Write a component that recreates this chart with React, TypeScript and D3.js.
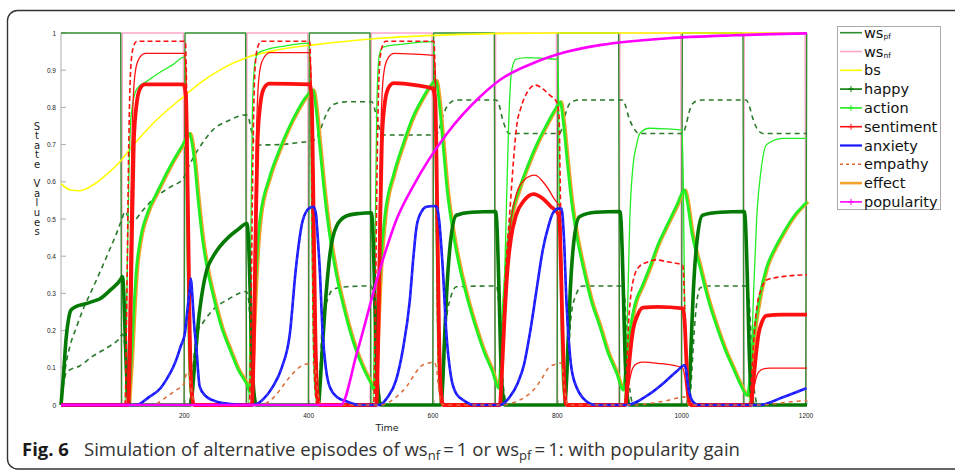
import React from 'react';
import * as d3 from 'd3';

type P = [number, number];

const xTickValues = [200, 400, 600, 800, 1000, 1200];
const yTickValues = [0, 0.1, 0.2, 0.3, 0.4, 0.5, 0.6, 0.7, 0.8, 0.9, 1];
const yTickLabels = ['0', '0.1', '0.2', '0.3', '0.4', '0.5', '0.6', '0.7', '0.8', '0.9', '1'];

const wsPf: P[] = [[0,1],[96,1],[97.5,0],[198,0],[199.5,1],[297,1],[298.5,0],[398,0],[399.5,1],[497,1],[498.5,0],[598,0],[599.5,1],[697,1],[698.5,0],[798,0],[799.5,1],[897,1],[898.5,0],[998,0],[999.5,1],[1097,1],[1098.5,0],[1198,0],[1199.5,1]];
const wsNf: P[] = [[0,0],[97,0],[98.5,1],[197,1],[198.5,0],[297.5,0],[299,1],[397,1],[398.5,0],[497.5,0],[499,1],[597,1],[598.5,0],[697.5,0],[699,1],[797,1],[798.5,0],[897.5,0],[899,1],[997,1],[998.5,0],[1097.5,0],[1099,1],[1197,1],[1198.5,0],[1200,0]];
const bs: P[] = [[0,0.595],[15,0.578],[30,0.576],[50,0.59],[70,0.615],[90,0.645],[114,0.694],[150,0.76],[197,0.829],[224,0.866],[260,0.905],[300,0.935],[350,0.955],[406,0.968],[460,0.978],[514,0.986],[622,0.995],[720,0.999],[800,1],[1200,1]];
const happy: P[] = [[0,0],[4,0.08],[8,0.175],[12,0.23],[16,0.255],[25,0.265],[35,0.27],[50,0.278],[62,0.285],[80,0.31],[95,0.335],[99,0.345],[101,0.3],[103,0.2],[105,0.1],[108,0.02],[111,0],
[208,0],[211,0.03],[214,0.09],[218,0.167],[222,0.24],[226,0.29],[234,0.36],[245,0.4],[255,0.425],[270,0.452],[285,0.472],[299,0.488],[301,0.46],[303,0.38],[305,0.26],[307,0.14],[310,0.04],[314,0],
[414,0],[417,0.06],[421,0.17],[426,0.29],[433,0.41],[443,0.48],[459,0.508],[480,0.515],[499,0.517],[501,0.49],[503,0.4],[505,0.28],[507,0.15],[510,0.04],[514,0],
[611,0],[614,0.06],[617,0.18],[620,0.29],[626,0.43],[636,0.51],[660,0.518],[699,0.52],[701,0.49],[703,0.4],[705,0.28],[707,0.15],[710,0.04],[714,0],
[810,0],[813,0.06],[816,0.18],[819,0.3],[825,0.44],[834,0.506],[860,0.518],[899,0.52],[901,0.49],[903,0.4],[905,0.28],[907,0.15],[910,0.04],[914,0],
[1008,0],[1011,0.06],[1014,0.18],[1017,0.3],[1023,0.44],[1032,0.51],[1060,0.518],[1099,0.52],[1101,0.49],[1103,0.4],[1105,0.28],[1107,0.15],[1110,0.04],[1114,0],[1200,0]];
const action: P[] = [[0,0],[108,0],[110,0.04],[113,0.12],[117,0.25],[121,0.36],[127,0.44],[140,0.52],[154,0.57],[175,0.64],[196,0.7],[207,0.73],[211,0.7],[215,0.65],[220,0.56],[228,0.44],[236,0.36],[244,0.3],[258,0.21],[272,0.148],[285,0.095],[299,0.055],[304,0.035],
[307,0.1],[310,0.22],[313,0.33],[316,0.42],[320,0.5],[335,0.61],[350,0.68],[365,0.74],[380,0.79],[395,0.83],[405,0.847],
[410,0.8],[416,0.7],[423,0.58],[431,0.47],[443,0.35],[459,0.235],[472,0.16],[486,0.1],[498,0.06],[504,0.04],
[507,0.11],[510,0.23],[513,0.34],[517,0.44],[521,0.51],[535,0.62],[550,0.7],[565,0.77],[580,0.82],[595,0.86],[603,0.872],
[608,0.82],[614,0.71],[621,0.58],[630,0.47],[640,0.38],[653,0.29],[667,0.21],[680,0.145],[694,0.09],[704,0.045],
[707,0.11],[710,0.22],[714,0.33],[718,0.42],[723,0.49],[737,0.58],[750,0.64],[765,0.7],[780,0.75],[795,0.795],[803,0.815],
[808,0.76],[814,0.66],[821,0.55],[830,0.45],[840,0.37],[853,0.28],[867,0.21],[880,0.14],[894,0.085],[904,0.04],
[908,0.09],[912,0.16],[917,0.22],[923,0.27],[935,0.32],[947,0.37],[960,0.43],[974,0.48],[990,0.535],[1003,0.578],
[1007,0.55],[1015,0.46],[1028,0.37],[1040,0.29],[1055,0.21],[1068,0.15],[1081,0.1],[1093,0.055],[1104,0.025],
[1108,0.07],[1112,0.15],[1117,0.22],[1125,0.3],[1135,0.37],[1148,0.42],[1161,0.46],[1180,0.51],[1200,0.546]];
const effect: P[] = action;
const actionThin: P[] = [[0,0],[103,0],[106,0.3],[109,0.6],[113,0.78],[122,0.85],[138,0.87],[160,0.895],[180,0.915],[198,0.935],[200,0.9],[202,0.5],[205,0.15],[208,0.03],[212,0],
[302,0],[305,0.4],[308,0.8],[312,0.92],[317,0.946],[330,0.955],[360,0.965],[399,0.973],[401,0.9],[403,0.5],[406,0.15],[409,0.03],[413,0],
[502,0],[505,0.4],[508,0.8],[512,0.94],[518,0.962],[550,0.97],[599,0.977],[601,0.9],[603,0.5],[606,0.15],[609,0.03],[613,0],
[706,0],[710,0.1],[713,0.3],[716,0.5],[720,0.75],[725,0.9],[732,0.93],[750,0.934],[775,0.932],[798,0.929],[800,0.88],[802,0.5],[805,0.15],[808,0.03],[812,0],
[905,0],[909,0.1],[912,0.3],[915,0.5],[920,0.64],[926,0.7],[931,0.73],[947,0.744],[975,0.742],[999,0.739],[1001,0.6],[1003,0.3],[1006,0.08],[1009,0],
[1106,0],[1110,0.1],[1114,0.3],[1119,0.5],[1126,0.63],[1135,0.7],[1161,0.717],[1200,0.717]];
const sentiment: P[] = [[0,0],[108,0],[111,0.15],[114,0.45],[117,0.7],[121,0.8],[127,0.85],[135,0.862],[197,0.862],[201,0.83],[204,0.55],[207,0.2],[210,0.04],[214,0],
[307,0],[310,0.15],[313,0.45],[316,0.7],[320,0.8],[326,0.85],[335,0.864],[400,0.862],[403,0.83],[406,0.55],[409,0.2],[412,0.04],[416,0],
[507,0],[510,0.15],[513,0.45],[516,0.7],[520,0.8],[526,0.85],[535,0.865],[570,0.86],[598,0.85],[602,0.82],[605,0.55],[608,0.2],[611,0.04],[615,0],
[706,0],[709,0.08],[713,0.22],[718,0.36],[724,0.45],[732,0.51],[745,0.55],[760,0.567],[775,0.555],[787,0.535],[801,0.51],[803,0.45],[806,0.25],[809,0.08],[813,0],
[908,0],[911,0.05],[915,0.13],[920,0.2],[927,0.24],[936,0.262],[960,0.264],[1000,0.26],[1003,0.23],[1006,0.12],[1009,0.03],[1013,0],
[1110,0],[1113,0.05],[1117,0.12],[1122,0.19],[1128,0.225],[1135,0.24],[1160,0.243],[1200,0.243]];
const sentimentThin: P[] = [[0,0],[105,0],[108,0.1],[111,0.4],[114,0.7],[117,0.85],[121,0.91],[127,0.935],[136,0.945],[198,0.945],[201,0.9],[204,0.55],[207,0.18],[210,0.03],[214,0],
[305,0],[308,0.1],[311,0.4],[314,0.7],[317,0.85],[321,0.91],[327,0.935],[336,0.947],[399,0.947],[402,0.9],[405,0.55],[408,0.18],[411,0.03],[415,0],
[505,0],[508,0.1],[511,0.4],[514,0.7],[517,0.85],[521,0.91],[527,0.935],[536,0.945],[570,0.943],[599,0.94],[602,0.9],[605,0.55],[608,0.18],[611,0.03],[615,0],
[706,0],[709,0.1],[713,0.25],[718,0.4],[724,0.5],[733,0.57],[745,0.605],[762,0.618],[780,0.59],[795,0.55],[802,0.533],[805,0.4],[808,0.15],[811,0.03],[815,0],
[908,0],[911,0.03],[915,0.07],[920,0.1],[927,0.112],[936,0.115],[960,0.112],[1000,0.1],[1003,0.08],[1006,0.04],[1009,0.01],[1013,0],
[1110,0],[1113,0.03],[1117,0.065],[1122,0.088],[1130,0.097],[1140,0.099],[1200,0.099]];
const sentimentDashed: P[] = [[0,0],[103,0],[106,0.3],[109,0.7],[112,0.9],[116,0.96],[122,0.978],[200,0.978],[202,0.85],[204,0.5],[206,0.2],[209,0.04],[212,0],
[303,0],[306,0.3],[309,0.7],[312,0.9],[316,0.96],[322,0.978],[400,0.978],[402,0.85],[404,0.5],[406,0.2],[409,0.04],[412,0],
[503,0],[506,0.3],[509,0.7],[512,0.9],[516,0.96],[522,0.978],[600,0.978],[602,0.85],[604,0.5],[606,0.2],[609,0.04],[612,0],
[706,0],[709,0.12],[713,0.28],[718,0.43],[722,0.52],[728,0.66],[733,0.75],[740,0.8],[749,0.838],[763,0.86],[775,0.85],[786,0.833],[797,0.815],[801,0.78],[803,0.6],[805,0.35],[808,0.1],[811,0],
[907,0],[910,0.1],[913,0.22],[917,0.3],[922,0.345],[930,0.372],[945,0.385],[957,0.39],[975,0.385],[1000,0.376],[1002,0.33],[1004,0.2],[1007,0.06],[1010,0],
[1108,0],[1111,0.08],[1115,0.19],[1120,0.27],[1126,0.31],[1135,0.336],[1160,0.345],[1200,0.35]];
const happyDashedUpper: P[] = [[0,0],[3,0.05],[8,0.11],[14,0.156],[25,0.21],[35,0.255],[50,0.31],[62,0.355],[75,0.405],[89,0.46],[98,0.5],[103,0.52],[107,0.51],[112,0.49],[118,0.495],[130,0.52],[153,0.56],[175,0.585],[197,0.61],[205,0.64],[217,0.677],[230,0.71],[244,0.739],[270,0.765],[298,0.78],[302,0.77],[306,0.74],[310,0.71],[316,0.699],[352,0.7],[380,0.705],[406,0.712],[412,0.72],[417,0.739],[425,0.775],[433,0.8],[445,0.812],[459,0.815],[500,0.815],[504,0.8],[508,0.77],[513,0.74],[518,0.726],[550,0.726],[604,0.726],[608,0.74],[613,0.77],[620,0.8],[628,0.815],[636,0.82],[700,0.82],[705,0.805],[710,0.77],[715,0.745],[721,0.73],[802,0.73],[807,0.75],[812,0.785],[818,0.81],[826,0.818],[834,0.82],[903,0.82],[908,0.805],[913,0.775],[920,0.748],[930,0.73],[1000,0.73],[1005,0.75],[1010,0.785],[1016,0.81],[1024,0.818],[1033,0.82],[1102,0.82],[1107,0.805],[1112,0.775],[1118,0.748],[1129,0.73],[1200,0.73]];
const happyDashedLower: P[] = [[0,0],[2,0.03],[5,0.065],[8,0.085],[15,0.095],[30,0.105],[50,0.13],[65,0.145],[80,0.16],[92,0.175],[99,0.19],[102,0.17],[105,0.1],[108,0.03],[112,0],
[206,0],[210,0.05],[214,0.13],[218,0.19],[230,0.225],[244,0.255],[270,0.285],[298,0.305],[302,0.28],[305,0.18],[308,0.08],[312,0.02],[316,0],
[413,0],[417,0.1],[421,0.237],[428,0.28],[437,0.31],[459,0.318],[499,0.32],[503,0.28],[506,0.18],[509,0.08],[513,0.02],[517,0],
[612,0],[616,0.1],[620,0.23],[627,0.29],[636,0.318],[700,0.32],[704,0.28],[707,0.18],[710,0.08],[714,0.02],[718,0],
[811,0],[815,0.1],[820,0.23],[827,0.29],[839,0.32],[903,0.32],[907,0.28],[910,0.18],[913,0.08],[917,0.02],[921,0],
[1011,0],[1015,0.1],[1020,0.23],[1028,0.315],[1038,0.32],[1103,0.32],[1107,0.28],[1110,0.18],[1113,0.08],[1117,0.02],[1121,0],[1200,0]];
const anxiety: P[] = [[0,0],[121,0],[142,0.022],[160,0.045],[169,0.067],[180,0.1],[185,0.12],[193,0.16],[199,0.19],[203,0.25],[207,0.31],[209,0.34],[211,0.3],[214,0.22],[218,0.148],[223,0.05],[232,0.025],[244,0.013],[260,0.005],[300,0],[308,0],[325,0.015],[341,0.05],[355,0.1],[368,0.19],[378,0.37],[389,0.497],[400,0.53],[406,0.533],[410,0.515],[413,0.45],[416,0.372],[421,0.19],[426,0.1],[432,0.05],[445,0.02],[459,0.01],[480,0],[512,0],[525,0.02],[539,0.067],[550,0.15],[561,0.28],[567,0.4],[572,0.48],[580,0.52],[588,0.533],[600,0.535],[604,0.533],[608,0.5],[614,0.37],[620,0.19],[627,0.08],[636,0.03],[650,0.01],[665,0],[706,0],[722,0.022],[735,0.06],[745,0.11],[754,0.19],[765,0.31],[775,0.417],[784,0.48],[791,0.515],[800,0.528],[805,0.528],[809,0.45],[813,0.28],[817,0.17],[821,0.1],[830,0.045],[839,0.02],[860,0],[909,0],[947,0.03],[970,0.06],[990,0.09],[1003,0.107],[1006,0.09],[1008,0.06],[1011,0.03],[1016,0.01],[1025,0],[1124,0],[1160,0.02],[1199,0.045]];
const empathy: P[] = [[0,0],[148,0],[160,0.01],[170,0.022],[185,0.04],[197,0.055],[202,0.085],[205,0.09],[208,0.06],[212,0.02],[216,0],
[320,0],[335,0.01],[352,0.04],[363,0.065],[373,0.085],[389,0.107],[406,0.113],[409,0.1],[412,0.05],[416,0.01],[420,0],
[515,0],[530,0.01],[545,0.03],[556,0.05],[567,0.078],[578,0.103],[590,0.112],[600,0.115],[604,0.1],[607,0.05],[611,0.01],[615,0],
[712,0],[725,0.005],[745,0.02],[760,0.04],[773,0.07],[786,0.103],[797,0.11],[805,0.113],[808,0.08],[811,0.03],[815,0],
[925,0],[950,0.005],[975,0.012],[1003,0.022],[1006,0.01],[1010,0],
[1125,0],[1160,0.006],[1200,0.013]];
const popularity: P[] = [[0,0],[450,0],[476,0.14],[514,0.37],[540,0.5],[567,0.59],[621,0.73],[675,0.83],[707,0.875],[761,0.92],[815,0.95],[869,0.968],[977,0.986],[1083,0.994],[1200,0.999]];

const legendLabels = ['ws', 'ws', 'bs', 'happy', 'action', 'sentiment', 'anxiety', 'empathy', 'effect', 'popularity'];
const legendSubs = ['pf', 'nf', '', '', '', '', '', '', '', ''];

const C = {
  pf: '#2f8f2f', nf: '#ffa6c9', bs: '#ffff00', happy: '#047a04', action: '#22ee22',
  red: '#ff1010', blue: '#1515ff', emp: '#dd6a35', effect: '#f2a22a', pop: '#ff00ff', dgreen: '#2a7a2a',
};

const legendStyles = [
  { color: C.pf, width: 1.6 },
  { color: C.nf, width: 1.6 },
  { color: C.bs, width: 1.6 },
  { color: C.happy, width: 1.6, marker: true },
  { color: C.action, width: 1.6, marker: true },
  { color: C.red, width: 1.6, marker: true },
  { color: C.blue, width: 2.2 },
  { color: C.emp, width: 1.4, dash: '3,3' },
  { color: C.effect, width: 2.6 },
  { color: C.pop, width: 1.6, marker: true },
];

export default function App() {
  const x = d3.scaleLinear().domain([0, 1200]).range([61, 807]);
  const y = d3.scaleLinear().domain([0, 1]).range([405, 33]);
  const smooth = d3.line<P>().x(d => x(d[0])).y(d => y(d[1])).curve(d3.curveMonotoneX);
  const straight = d3.line<P>().x(d => x(d[0])).y(d => y(d[1]));

  const layers = [
    { d: straight(wsNf), color: C.nf, w: 1.6 },
    { d: straight(wsPf), color: C.pf, w: 1.4 },
    { d: smooth(bs), color: C.bs, w: 1.6 },
    { d: smooth(happyDashedUpper), color: C.dgreen, w: 1.6, dash: '5,4' },
    { d: smooth(happyDashedLower), color: C.dgreen, w: 1.6, dash: '5,4' },
    { d: smooth(effect), color: C.effect, w: 3, tx: 1.3 },
    { d: smooth(action), color: C.action, w: 2.8 },
    { d: smooth(actionThin), color: C.action, w: 1.3 },
    { d: smooth(happy), color: C.happy, w: 3.6 },
    { d: smooth(sentimentDashed), color: C.red, w: 1.6, dash: '5,3' },
    { d: smooth(sentimentThin), color: C.red, w: 1.3 },
    { d: smooth(sentiment), color: C.red, w: 3.8 },
    { d: smooth(anxiety), color: C.blue, w: 2.6 },
    { d: smooth(anxiety), color: '#3333ff', w: 1.6, dash: '4,3' },
    { d: smooth(empathy), color: C.emp, w: 1.5, dash: '4,4' },
    { d: smooth(popularity), color: C.pop, w: 2.6 },
  ];

  const stateChars = 'State Values'.split('');
  const legendY = (i: number) => 32.7 + i * 18.8;

  return (
    <svg width={955} height={470} style={{ position: 'absolute', left: 0, top: 0, background: '#fff' }}>
      <rect x={0} y={0} width={955} height={470} fill="#fff" />
      <path d="M955,10.5 H17.5 A10,10 0 0 0 7.5,20.5 V459 A10,10 0 0 0 17.5,469 H955" fill="none" stroke="#333" strokeWidth={1.4} />

      {/* axes */}
      <line x1={x(0)} x2={x(0)} y1={y(0)} y2={y(1)} stroke="#aaa" strokeWidth={1} />
      <line x1={x(0)} x2={x(1200)} y1={y(0)} y2={y(0)} stroke="#aaa" strokeWidth={1} />
      {yTickValues.map((v, i) => (
        <g key={'yt' + i}>
          <line x1={x(0)} x2={x(0) + 5} y1={y(v)} y2={y(v)} stroke="#999" strokeWidth={0.8} />
          <text x={56} y={y(v)} textAnchor="end" dominantBaseline="central" fontFamily="Liberation Sans, Arial" fontSize={6.5} fill="#222">{yTickLabels[i]}</text>
        </g>
      ))}
      {xTickValues.map((v, i) => (
        <g key={'xt' + i}>
          <line x1={x(v)} x2={x(v)} y1={y(0)} y2={y(0) - 5} stroke="#999" strokeWidth={0.8} />
          <text x={x(v) - 1} y={415} textAnchor="middle" dominantBaseline="central" fontFamily="Liberation Sans, Arial" fontSize={6.5} fill="#222">{v}</text>
        </g>
      ))}

      {layers.map((l, i) => (
        <path key={'l' + i} d={l.d || ''} fill="none" stroke={l.color} strokeWidth={l.w}
          strokeDasharray={l.dash} strokeLinejoin="round"
          transform={l.tx ? `translate(${l.tx},0)` : undefined} />
      ))}

      <text x={387} y={427} textAnchor="middle" dominantBaseline="central" fontFamily="DejaVu Sans, Verdana" fontSize={9.5} fill="#222">Time</text>
      {stateChars.map((c, i) => (
        <text key={'s' + i} x={37} y={126 + i * 9.6} textAnchor="middle" dominantBaseline="central" fontFamily="DejaVu Sans, Verdana" fontSize={10} fill="#222">{c}</text>
      ))}

      {/* legend */}
      <rect x={837.5} y={26.5} width={103} height={183} fill="#fff" stroke="#aaa" strokeWidth={1} />
      {legendLabels.map((lab, i) => {
        const st = legendStyles[i];
        const yy = legendY(i);
        return (
          <g key={'lg' + i}>
            <line x1={840} x2={862} y1={yy} y2={yy} stroke={st.color} strokeWidth={st.width} strokeDasharray={st.dash} />
            {st.marker ? (
              <g stroke={st.color} strokeWidth={1}>
                <line x1={848} x2={854} y1={yy} y2={yy} />
                <line x1={851} x2={851} y1={yy - 3} y2={yy + 3} />
              </g>
            ) : null}
            <text x={864} y={yy} dominantBaseline="central" fontFamily="DejaVu Sans, Verdana" fontSize={14.5} fill="#111">
              {lab}
              {legendSubs[i] ? <tspan fontSize={7.5} dy={3}>{legendSubs[i]}</tspan> : null}
            </text>
          </g>
        );
      })}

      {/* caption */}
      <text x={22} y={456} fontFamily="Open Sans" fontWeight={700} fontSize={18.5} fill="#1a1a1a">Fig. 6</text>
      <text x={84} y={456} fontFamily="Open Sans" fontSize={18.5} fill="#333" textLength={656} lengthAdjust="spacingAndGlyphs">
        Simulation of alternative episodes of ws<tspan fontSize={13} dy={4}>nf</tspan><tspan dy={-4}>{'\u2009=\u20091 or ws'}</tspan><tspan fontSize={13} dy={4}>pf</tspan><tspan dy={-4}>{'\u2009=\u20091: with popularity gain'}</tspan>
      </text>
    </svg>
  );
}
